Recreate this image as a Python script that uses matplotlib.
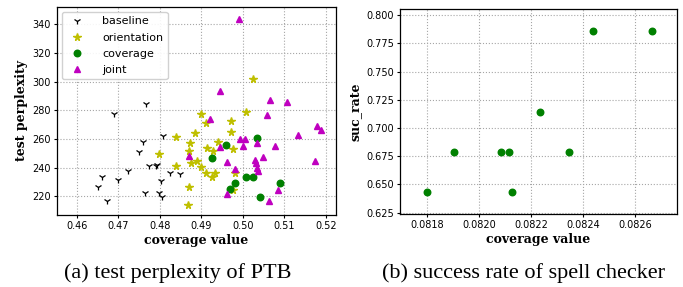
import matplotlib
matplotlib.use("Agg")
import matplotlib.pyplot as plt

# (a) test perplexity of PTB
base_x = [0.4651, 0.4662, 0.4674, 0.4689, 0.4699, 0.4724, 0.4750, 0.4760, 0.4765,
          0.4766, 0.4774, 0.4790, 0.4794, 0.4798, 0.4802, 0.4806, 0.4807, 0.4824, 0.4849]
base_y = [226.7, 233.2, 216.5, 277.5, 231.1, 237.4, 250.6, 257.8, 222.6,
          284.3, 241.1, 241.3, 242.0, 222.6, 230.7, 219.3, 262.2, 236.0, 235.5]

orient_x = [0.4799, 0.4838, 0.4840, 0.4869, 0.4871, 0.4871, 0.4872, 0.4876, 0.4884,
            0.4889, 0.4900, 0.4900, 0.4911, 0.4912, 0.4914, 0.4925, 0.4929, 0.4933,
            0.4941, 0.4972, 0.4972, 0.4976, 0.4982, 0.4977, 0.5007, 0.5025]
orient_y = [249.5, 261.1, 241.3, 214.0, 226.3, 251.8, 256.9, 243.0, 264.3,
            244.8, 240.2, 277.1, 270.8, 236.2, 253.9, 233.2, 251.8, 236.0,
            257.6, 272.7, 265.2, 252.9, 236.0, 224.4, 278.5, 301.7]

cov_x = [0.4925, 0.4960, 0.4969, 0.4982, 0.5007, 0.5025, 0.5034, 0.5040, 0.5090]
cov_y = [246.7, 255.5, 225.3, 229.0, 233.5, 233.5, 260.8, 219.3, 229.0]

joint_x = [0.4990, 0.4946, 0.4920, 0.4870, 0.4944, 0.4962, 0.4980, 0.4961, 0.4994,
           0.5006, 0.5001, 0.5030, 0.5031, 0.5033, 0.5036, 0.5034, 0.5049, 0.5062,
           0.5059, 0.5065, 0.5077, 0.5085, 0.5107, 0.5133, 0.5174, 0.5179, 0.5188]
joint_y = [343.4, 293.3, 273.8, 248.1, 254.6, 243.7, 238.8, 221.6, 259.9,
           259.9, 255.0, 245.3, 243.0, 239.5, 237.9, 257.4, 247.4, 216.8,
           276.4, 287.5, 255.0, 224.2, 286.1, 262.9, 244.4, 269.0, 266.2]

# (b) success rate of spell checker
spell_cov = [0.08180, 0.081904, 0.082086, 0.082116, 0.082128,
             0.082233, 0.082345, 0.082440, 0.082664]
spell_suc = [0.6429, 0.6786, 0.6786, 0.6786, 0.6429,
             0.7143, 0.6786, 0.7857, 0.7857]

TICK_FS = 7
LABEL_FS = 9


def style(ax, xl, yl):
    ax.set_xlabel(xl, fontsize=LABEL_FS, family="DejaVu Serif", weight="bold", labelpad=2)
    ax.set_ylabel(yl, fontsize=LABEL_FS, family="DejaVu Serif", weight="bold", labelpad=3)
    ax.tick_params(labelsize=TICK_FS, length=2.5, width=0.8, pad=2)
    ax.grid(True, linestyle=":", color="0.65", linewidth=0.8)
    ax.set_axisbelow(True)
    for s in ax.spines.values():
        s.set_linewidth(0.9)


fig = plt.figure(figsize=(6.83, 2.87), dpi=100)
ax1 = fig.add_axes([0.0835, 0.2509, 0.4085, 0.7247])
ax2 = fig.add_axes([0.5857, 0.2544, 0.4056, 0.7143])

ax1.plot(base_x, base_y, "1", color="k", ms=5, mew=0.9, ls="none", label="baseline")
ax1.plot(orient_x, orient_y, "*", color="y", ms=5.5, ls="none", label="orientation")
ax1.plot(cov_x, cov_y, "o", color="g", ms=4.7, ls="none", label="coverage")
ax1.plot(joint_x, joint_y, "^", color="m", ms=5, ls="none", label="joint")
ax1.set_xlim(0.4553, 0.5224)
ax1.set_ylim(207, 352)
ax1.set_xticks([0.46, 0.47, 0.48, 0.49, 0.50, 0.51, 0.52])
ax1.set_yticks([220, 240, 260, 280, 300, 320, 340])
style(ax1, "coverage value", "test perplexity")
ax1.legend(loc="upper left", fontsize=8, handletextpad=1.3, borderaxespad=0.45,
           labelspacing=0.55, handlelength=1.9, framealpha=0.9)

ax2.plot(spell_cov, spell_suc, "o", color="g", ms=4.7, ls="none")
ax2.set_xlim(0.081697, 0.082761)
ax2.set_ylim(0.6238, 0.8056)
ax2.set_xticks([0.0818, 0.0820, 0.0822, 0.0824, 0.0826])
ax2.set_xticklabels(["0.0818", "0.0820", "0.0822", "0.0824", "0.0826"])
ax2.set_yticks([0.625, 0.650, 0.675, 0.700, 0.725, 0.750, 0.775, 0.800])
ax2.set_yticklabels(["0.625", "0.650", "0.675", "0.700", "0.725", "0.750", "0.775", "0.800"])
style(ax2, "coverage value", "suc_rate")

fig.text(178 / 683, 1 - 273 / 287, "(a) test perplexity of PTB", ha="center", va="center",
         fontsize=16, family="Liberation Serif")
fig.text(524 / 683, 1 - 273 / 287, "(b) success rate of spell checker", ha="center", va="center",
         fontsize=16, family="Liberation Serif")

fig.savefig("out.png", dpi=100)
